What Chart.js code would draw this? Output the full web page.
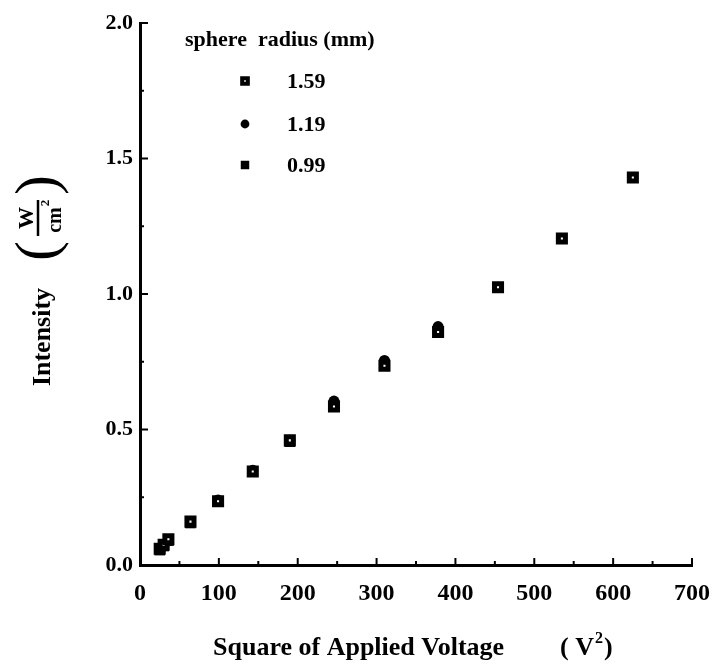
<!DOCTYPE html>
<html>
<head>
<meta charset="utf-8">
<script src="https://cdn.jsdelivr.net/npm/chart.js@4/dist/chart.umd.min.js"></script>
<style>
    html, body { margin: 0; padding: 0; background: #fff; }
    #chartBox { width: 714px; height: 665px; }
</style>
</head>
<body>
<div id="chartBox"><canvas id="intensityChart" width="714" height="665"></canvas></div>
<script>
// Data: x = square of applied voltage (V^2), y = intensity (W/cm^2)
const voltageSq159 = [25, 30, 36, 64, 99, 143, 190, 246, 310, 378, 454, 535, 625];
const intensity159 = [0.06, 0.075, 0.095, 0.16, 0.235, 0.345, 0.46, 0.585, 0.735, 0.86, 1.025, 1.205, 1.43];
const voltageSq119 = [25, 30, 36, 64, 99, 143, 190, 246, 310, 378];
const intensity119 = [0.06, 0.07, 0.09, 0.16, 0.24, 0.35, 0.46, 0.605, 0.755, 0.88];
const voltageSq099 = [25, 30, 36, 64, 99, 143, 190, 246, 310];
const intensity099 = [0.055, 0.07, 0.09, 0.155, 0.235, 0.345, 0.455, 0.59, 0.74];

const seriesLabels = ["1.59", "1.19", "0.99"];
const xTicks = [0, 100, 200, 300, 400, 500, 600, 700];
const yTicks = [0.0, 0.5, 1.0, 1.5, 2.0];

const serif = "'Liberation Serif', 'DejaVu Serif', serif";
Chart.defaults.font.family = serif;
Chart.defaults.color = "#000";

function toPoints(xs, ys) {
    return xs.map((x, i) => ({ x: x, y: ys[i] }));
}

// Small inward tick marks, majors plus minors halfway between
const innerTicks = {
    id: "innerTicks",
    afterDraw(chart) {
        const { ctx, chartArea, scales } = chart;
        ctx.save();
        ctx.strokeStyle = "#000";
        ctx.lineWidth = 2;
        for (let v = 0; v <= 700; v += 50) {
            const px = scales.x.getPixelForValue(v);
            const len = v % 100 === 0 ? 7 : 4;
            ctx.beginPath();
            ctx.moveTo(px, chartArea.bottom);
            ctx.lineTo(px, chartArea.bottom - len);
            ctx.stroke();
        }
        for (let v = 0; v <= 2.0001; v += 0.25) {
            const py = scales.y.getPixelForValue(v);
            const len = Math.abs(v * 2 - Math.round(v * 2)) < 0.01 ? 8 : 4;
            ctx.beginPath();
            ctx.moveTo(chartArea.left, py);
            ctx.lineTo(chartArea.left + len, py);
            ctx.stroke();
        }
        ctx.restore();
    }
};

// Draw a marker the same way as the dataset does
function drawMarker(ctx, ds, x, y, scale) {
    const r = ds.pointRadius * scale;
    ctx.fillStyle = ds.backgroundColor;
    ctx.strokeStyle = ds.borderColor;
    ctx.lineWidth = ds.borderWidth * scale;
    ctx.beginPath();
    if (ds.pointStyle === "circle") {
        ctx.arc(x, y, r, 0, Math.PI * 2);
    } else {
        const s = r * Math.SQRT1_2;
        ctx.rect(x - s, y - s, 2 * s, 2 * s);
    }
    ctx.fill();
    if (ds.borderWidth > 0) ctx.stroke();
}

// Legend inside the plot area
const insideLegend = {
    id: "insideLegend",
    afterDraw(chart) {
        const ctx = chart.ctx;
        ctx.save();
        ctx.fillStyle = "#000";
        ctx.textBaseline = "middle";
        ctx.textAlign = "left";
        ctx.font = "bold 22px " + serif;
        ctx.fillText("sphere  radius (mm)", 185, 40);
        const rows = [81, 124, 165];
        chart.data.datasets.forEach((ds, i) => {
            drawMarker(ctx, ds, 245, rows[i], 0.8);
            ctx.fillStyle = "#000";
            ctx.font = "bold 22px " + serif;
            ctx.fillText(ds.label, 287, rows[i] + 1);
        });
        ctx.restore();
    }
};

// Axis titles with superscript and the W/cm2 fraction
const axisTitles = {
    id: "axisTitles",
    afterDraw(chart) {
        const ctx = chart.ctx;
        ctx.save();
        ctx.fillStyle = "#000";
        ctx.strokeStyle = "#000";

        // x title
        ctx.textBaseline = "alphabetic";
        ctx.textAlign = "left";
        ctx.font = "bold 26px " + serif;
        ctx.fillText("Square of Applied Voltage", 213, 655);
        ctx.fillText("( V", 560, 655);
        let w = ctx.measureText("( V").width;
        ctx.font = "bold 16px " + serif;
        ctx.fillText("2", 560 + w + 1, 643);
        ctx.font = "bold 26px " + serif;
        ctx.fillText(")", 560 + w + 10, 655);

        // y title, rotated
        ctx.translate(43, 337);
        ctx.rotate(-Math.PI / 2);
        ctx.textAlign = "center";
        ctx.textBaseline = "middle";
        ctx.font = "bold 26px " + serif;
        ctx.fillText("Intensity", 0, 0);

        ctx.font = "60px " + serif;
        ctx.fillText("(", 86, -3);
        ctx.fillText(")", 152, -3);

        ctx.font = "bold 22px " + serif;
        ctx.fillText("W", 119, -16);
        ctx.lineWidth = 2.5;
        ctx.beginPath();
        ctx.moveTo(101, -5);
        ctx.lineTo(137, -5);
        ctx.stroke();
        ctx.font = "bold 20px " + serif;
        ctx.fillText("cm", 117, 13);
        ctx.font = "bold 13px " + serif;
        ctx.fillText("2", 134, 3);
        ctx.restore();
    }
};

const chart = new Chart(document.getElementById("intensityChart"), {
    type: "scatter",
    data: {
        datasets: [
            {
                label: seriesLabels[0],
                data: toPoints(voltageSq159, intensity159),
                pointStyle: "rect",
                pointRadius: 5,
                backgroundColor: "#fff",
                borderColor: "#000",
                borderWidth: 5,
                order: 0
            },
            {
                label: seriesLabels[1],
                data: toPoints(voltageSq119, intensity119),
                pointStyle: "circle",
                pointRadius: 5.5,
                backgroundColor: "#000",
                borderColor: "#000",
                borderWidth: 0,
                order: 1
            },
            {
                label: seriesLabels[2],
                data: toPoints(voltageSq099, intensity099),
                pointStyle: "rect",
                pointRadius: 7.5,
                backgroundColor: "#000",
                borderColor: "#000",
                borderWidth: 0,
                order: 2
            }
        ]
    },
    options: {
        responsive: false,
        animation: false,
        layout: { padding: { top: 23, right: 22, left: 0, bottom: 0 } },
        plugins: {
            legend: { display: false },
            tooltip: { enabled: false }
        },
        scales: {
            x: {
                type: "linear",
                min: 0,
                max: 700,
                afterFit: (s) => {
                    s.height = 100;
                    // keep the end label from shrinking the plot
                    s.paddingLeft = 0;
                    s.paddingRight = 0;
                },
                afterBuildTicks: (s) => { s.ticks = xTicks.map(v => ({ value: v })); },
                grid: { display: false, drawTicks: false },
                border: { display: true, width: 3, color: "#000" },
                ticks: {
                    padding: 14,
                    font: { size: 24, weight: "bold" },
                    color: "#000"
                }
            },
            y: {
                type: "linear",
                min: 0,
                max: 2,
                afterFit: (s) => { s.width = 140; },
                afterBuildTicks: (s) => { s.ticks = yTicks.map(v => ({ value: v })); },
                grid: { display: false, drawTicks: false },
                border: { display: true, width: 3, color: "#000" },
                ticks: {
                    padding: 7,
                    font: { size: 22, weight: "bold" },
                    color: "#000",
                    callback: (v) => Number(v).toFixed(1)
                }
            }
        }
    },
    plugins: [innerTicks, insideLegend, axisTitles]
});
</script>
</body>
</html>
